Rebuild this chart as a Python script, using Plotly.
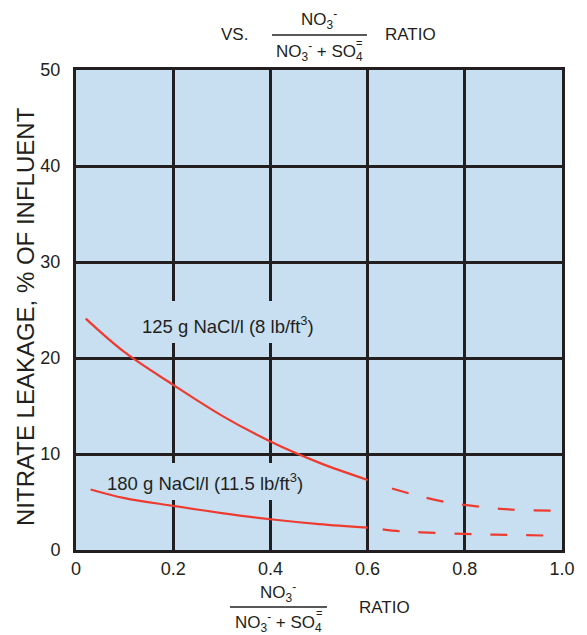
import plotly.graph_objects as go

# ---- data ----
x_125_solid = [0.02, 0.1, 0.2, 0.3, 0.4, 0.5, 0.6]
y_125_solid = [24.1, 20.6, 17.2, 14.0, 11.3, 9.1, 7.3]
x_125_dash = [0.65, 0.7, 0.76, 0.8, 0.86, 0.92, 0.981]
y_125_dash = [6.4, 5.7, 5.0, 4.7, 4.35, 4.15, 4.1]

x_180_solid = [0.03, 0.1, 0.2, 0.3, 0.4, 0.5, 0.6]
y_180_solid = [6.3, 5.4, 4.6, 3.85, 3.2, 2.7, 2.33]
x_180_dash = [0.631, 0.667, 0.71, 0.8, 0.86, 0.974]
y_180_dash = [2.15, 1.95, 1.84, 1.67, 1.6, 1.5]

x_ticks = [0, 0.2, 0.4, 0.6, 0.8, 1.0]
x_ticklabels = ["0", "0.2", "0.4", "0.6", "0.8", "1.0"]
y_ticks = [0, 10, 20, 30, 40, 50]
y_ticklabels = ["0", "10", "20", "30", "40", "50"]

label_125 = "125 g NaCl/l (8 lb/ft<sup>3</sup>)"
label_180 = "180 g NaCl/l (11.5 lb/ft<sup>3</sup>)"
y_title = "NITRATE LEAKAGE, % OF INFLUENT"

# ---- styling ----
W, H = 587, 635
L, R, T, B = 76, 562, 70, 550
RED = "#ee3b30"
INK = "#231f20"
BG = "#c8dff2"
FONT = "Liberation Sans, Arial, sans-serif"


def px(xp):
    return (xp - L) / (R - L)


def py(yp):
    return (B - yp) / (B - T)


def dx(xp):
    return (xp - L) / (R - L) * 1.0


def dy(yp):
    return (B - yp) / (B - T) * 50.0


fig = go.Figure()
line_solid = dict(color=RED, width=2.2, shape="spline")
line_dash = dict(color=RED, width=2.2, shape="spline", dash="17px,19px")
fig.add_trace(go.Scatter(x=x_125_solid, y=y_125_solid, mode="lines", line=line_solid))
fig.add_trace(go.Scatter(x=x_125_dash, y=y_125_dash, mode="lines", line=line_dash))
fig.add_trace(go.Scatter(x=x_180_solid, y=y_180_solid, mode="lines", line=line_solid))
fig.add_trace(go.Scatter(x=x_180_dash, y=y_180_dash, mode="lines", line=line_dash))

axis_common = dict(
    showgrid=True, gridcolor=INK, gridwidth=3,
    showline=True, linecolor=INK, linewidth=3, mirror=True,
    zeroline=False, ticks="", tickfont=dict(family=FONT, size=18, color=INK),
)
fig.update_xaxes(range=[0, 1.0], tickvals=x_ticks, ticktext=x_ticklabels,
                 ticklabelstandoff=0, **axis_common)
fig.update_yaxes(range=[0, 50], tickvals=y_ticks, ticktext=y_ticklabels,
                 ticklabelstandoff=9, **axis_common)

ann = []
txt = dict(family=FONT, size=17, color=INK)
lab = dict(family=FONT, size=18.5, color=INK)
# curve labels
ann.append(dict(x=px(140), y=py(325), xref="paper", yref="paper", xanchor="left",
                yanchor="middle", text=label_125, showarrow=False, font=lab))
ann.append(dict(x=px(105), y=py(482), xref="paper", yref="paper", xanchor="left",
                yanchor="middle", text=label_180, showarrow=False, font=lab))
# y title
ann.append(dict(x=px(25), y=py(317), xref="paper", yref="paper", xanchor="center",
                yanchor="middle", text=y_title, textangle=-90, showarrow=False,
                font=dict(family=FONT, size=24, color=INK)))

num = "NO<sub>3</sub><sup>-</sup>"
den = "NO<sub>3</sub><sup>-</sup> + SO<sub>4</sub>"


def fraction(cx, cy, x1, prefix=None, prefix_x=None, ratio_x=None, dn=17):
    out = []
    out.append(dict(x=px(cx), y=py(cy - 15), xref="paper", yref="paper", text=num,
                    showarrow=False, font=txt, xanchor="center", yanchor="middle"))
    out.append(dict(x=px(cx), y=py(cy + dn), xref="paper", yref="paper", text=den,
                    showarrow=False, font=txt, xanchor="center", yanchor="middle"))
    out.append(dict(x=px(x1 - 8), y=py(cy + dn - 9), xref="paper", yref="paper", text="=",
                    showarrow=False, font=dict(family=FONT, size=11, color=INK),
                    xanchor="center", yanchor="middle"))
    out.append(dict(x=px(ratio_x), y=py(cy), xref="paper", yref="paper", text="RATIO",
                    showarrow=False, font=txt, xanchor="center", yanchor="middle"))
    if prefix:
        out.append(dict(x=px(prefix_x), y=py(cy), xref="paper", yref="paper", text=prefix,
                        showarrow=False, font=txt, xanchor="center", yanchor="middle"))
    return out


ann += fraction(319, 35, 367, prefix="VS.", prefix_x=234, ratio_x=410)
ann += fraction(278, 607, 327, ratio_x=384, dn=15)

shapes = [
    dict(type="line", xref="paper", yref="paper", x0=px(272), x1=px(367),
         y0=py(35), y1=py(35), line=dict(color=INK, width=1.3)),
    dict(type="line", xref="paper", yref="paper", x0=px(230), x1=px(327),
         y0=py(607), y1=py(607), line=dict(color=INK, width=1.3)),
    # background patches that break the grid behind the curve labels
    dict(type="rect", xref="x", yref="y", layer="between",
         x0=dx(134), x1=dx(318), y0=dy(343), y1=dy(301),
         fillcolor=BG, line=dict(width=0)),
    dict(type="rect", xref="x", yref="y", layer="between",
         x0=dx(100), x1=dx(312), y0=dy(500), y1=dy(463),
         fillcolor=BG, line=dict(width=0)),
]

fig.update_layout(
    width=W, height=H,
    margin=dict(l=L, r=W - R, t=T, b=H - B, pad=0),
    paper_bgcolor="white", plot_bgcolor=BG,
    showlegend=False, annotations=ann, shapes=shapes,
    font=dict(family=FONT, color=INK),
)

fig.write_html("out.html", config={"displayModeBar": False},
               post_script="document.body.style.margin='0';document.body.style.padding='0';")
